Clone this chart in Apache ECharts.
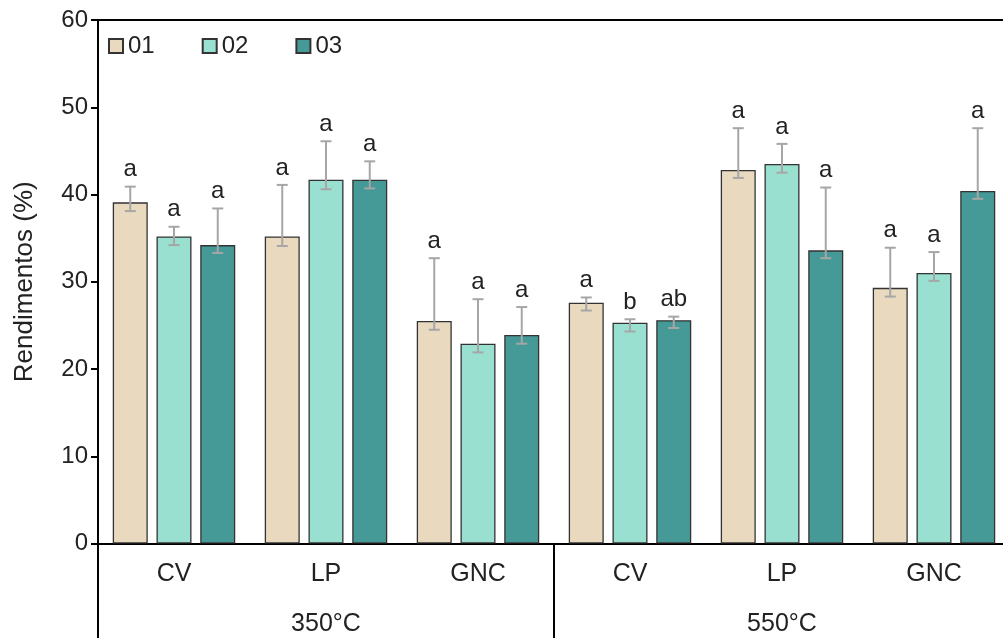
<!DOCTYPE html>
<html>
<head>
<meta charset="utf-8">
<title>Rendimentos</title>
<script src="https://cdn.jsdelivr.net/npm/echarts@6/dist/echarts.min.js"></script>
<style>
  html, body { margin: 0; padding: 0; background: #ffffff; overflow: hidden; }
  #chart { width: 1003px; height: 638px; }
</style>
</head>
<body>
<div id="chart"></div>
<script>
// Categories on the x axis and the temperature groups beneath them
const categories = ['CV', 'LP', 'GNC', 'CV', 'LP', 'GNC'];
const groups = ['350°C', '550°C'];
const seriesNames = ['01', '02', '03'];

// Mean yields (%)
const values01 = [39.1, 35.2, 25.5, 27.6, 42.8, 29.3];
const values02 = [35.2, 41.7, 22.9, 25.3, 43.5, 31.0];
const values03 = [34.2, 41.7, 23.9, 25.6, 33.6, 40.4];

// Error bar ends (%)
const upper01 = [40.9, 41.1, 32.7, 28.2, 47.6, 33.9];
const upper02 = [36.3, 46.1, 28.0, 25.7, 45.8, 33.4];
const upper03 = [38.4, 43.8, 27.1, 26.0, 40.8, 47.6];
const lower01 = [38.1, 34.1, 24.5, 26.7, 41.9, 28.3];
const lower02 = [34.2, 40.6, 21.9, 24.3, 42.5, 30.1];
const lower03 = [33.3, 40.7, 22.9, 24.7, 32.7, 39.5];

// Significance letters
const letters01 = ['a', 'a', 'a', 'a', 'a', 'a'];
const letters02 = ['a', 'a', 'a', 'b', 'a', 'a'];
const letters03 = ['a', 'a', 'a', 'ab', 'a', 'a'];

// Y axis ticks
const yMin = 0, yMax = 60, yStep = 10;

const FONT = '"Liberation Sans", Arial, sans-serif';
const colors = ['#E9DABF', '#99E0D0', '#459996'];
const BAR_W = 35;
const BAR_GAP = 0.25;
const slot = BAR_W * (1 + BAR_GAP);

const values = [values01, values02, values03];
const uppers = [upper01, upper02, upper03];
const lowers = [lower01, lower02, lower03];
const letters = [letters01, letters02, letters03];

const chart = echarts.init(document.getElementById('chart'), null, { renderer: 'canvas' });

const barSeries = seriesNames.map((name, s) => ({
  name: name,
  type: 'bar',
  xAxisIndex: 0,
  barWidth: BAR_W,
  barGap: (BAR_GAP * 100) + '%',
  itemStyle: { color: colors[s], borderColor: '#333333', borderWidth: 1.3 },
  data: values[s],
  z: 2
}));

// Error bars with their significance letters on top
const errorSeries = seriesNames.map((name, s) => ({
  name: 'err' + name,
  type: 'custom',
  xAxisIndex: 0,
  z: 5,
  data: categories.map((c, i) => [i, lowers[s][i], uppers[s][i], letters[s][i]]),
  encode: { x: 0, y: [1, 2] },
  renderItem: function (params, api) {
    const idx = api.value(0);
    const lo = api.coord([idx, api.value(1)]);
    const hi = api.coord([idx, api.value(2)]);
    const x = lo[0] + (s - 1) * slot;
    const cap = 5.5;
    const lineStyle = { stroke: '#A6A6A6', lineWidth: 2 };
    return {
      type: 'group',
      children: [
        { type: 'line', shape: { x1: x, y1: lo[1], x2: x, y2: hi[1] }, style: lineStyle },
        { type: 'line', shape: { x1: x - cap, y1: lo[1], x2: x + cap, y2: lo[1] }, style: lineStyle },
        { type: 'line', shape: { x1: x - cap, y1: hi[1], x2: x + cap, y2: hi[1] }, style: lineStyle },
        {
          type: 'text',
          style: {
            x: x, y: hi[1] - 5,
            text: letters[s][idx],
            fill: '#222222',
            font: '24px ' + FONT,
            textAlign: 'center',
            textVerticalAlign: 'bottom'
          }
        }
      ]
    };
  }
}));

const option = {
  animation: false,
  backgroundColor: '#ffffff',
  textStyle: { fontFamily: FONT },
  // the plot runs a little past the right edge of the page
  grid: { left: 98, width: 912, top: 20, bottom: 94.5, containLabel: false, outerBoundsMode: 'none' },
  legend: {
    data: seriesNames,
    left: 103,
    top: 29,
    itemWidth: 14,
    itemHeight: 14,
    itemGap: 47,
    icon: 'rect',
    textStyle: { fontSize: 24, color: '#222222', fontFamily: FONT }
  },
  xAxis: [
    {
      type: 'category',
      data: categories,
      position: 'bottom',
      axisLine: { show: true, lineStyle: { color: '#000000', width: 2 } },
      axisTick: { show: false },
      axisLabel: { fontSize: 25, color: '#222222', margin: 18, fontFamily: FONT }
    },
    {
      type: 'category',
      data: groups,
      position: 'bottom',
      axisLine: { show: false },
      axisTick: { show: true, inside: false, length: 100, lineStyle: { color: '#000000', width: 2 } },
      axisLabel: { fontSize: 25, color: '#222222', margin: 68, fontFamily: FONT }
    },
    {
      type: 'category',
      data: groups,
      position: 'top',
      axisLine: { show: true, lineStyle: { color: '#000000', width: 2 } },
      axisTick: { show: false },
      axisLabel: { show: false }
    }
  ],
  yAxis: {
    type: 'value',
    min: yMin,
    max: yMax,
    interval: yStep,
    name: 'Rendimentos (%)',
    nameLocation: 'middle',
    nameGap: 60,
    nameTextStyle: { fontSize: 26, color: '#222222', fontFamily: FONT },
    axisLine: { show: true, lineStyle: { color: '#000000', width: 2 } },
    axisTick: { show: true, inside: false, length: 7, lineStyle: { color: '#000000', width: 2 } },
    axisLabel: { fontSize: 24, color: '#222222', margin: 10, fontFamily: FONT },
    splitLine: { show: false }
  },
  series: barSeries.concat(errorSeries)
};

chart.setOption(option);
</script>
</body>
</html>
